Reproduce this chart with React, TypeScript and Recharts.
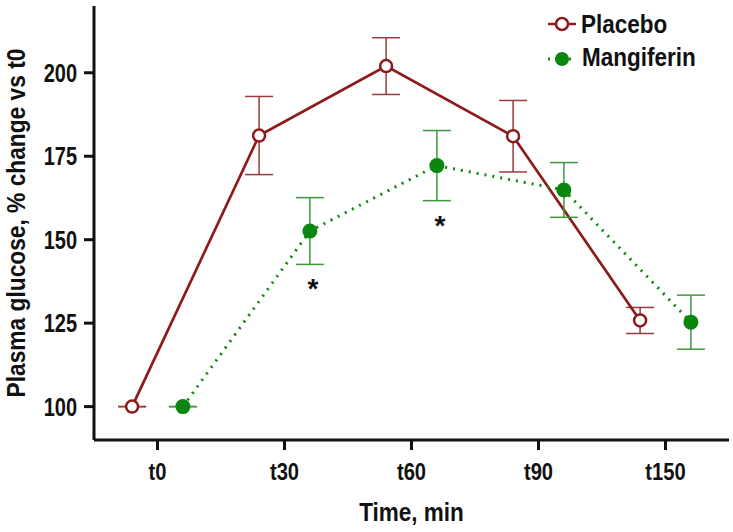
import React from 'react';
import { ComposedChart, Line, Scatter, XAxis, YAxis, ErrorBar } from 'recharts';

// Glucose tolerance: % change vs t0, mean ± SEM
const times = ['t0', 't30', 't60', 't90', 't150'];
const placeboMean = [100, 181.2, 202, 181, 125.8];
const placeboSem = [0.05, 11.7, 8.5, 10.7, 3.9];
const mangiferinMean = [100, 152.6, 172.2, 164.9, 125.3];
const mangiferinSem = [0.05, 10, 10.5, 8.2, 8.1];
const significant = [false, true, true, false, false];
const yTicks = [100, 125, 150, 175, 200];

const PLACEBO = '#8e1a1c';
const PLACEBO_ERR = '#9b3a3b';
const MANGIFERIN = '#0b870f';
const MANGIFERIN_ERR = '#3c9a3c';
const FONT = "'Liberation Sans', Arial, sans-serif";

// side-by-side within each time point
const SHIFT = 0.2;
const placeboData = times.map((_, i) => ({ x: i - SHIFT, y: placeboMean[i], err: placeboSem[i] }));
const mangiferinData = times.map((_, i) => ({ x: i + SHIFT, y: mangiferinMean[i], err: mangiferinSem[i] }));
const starData = times
  .map((_, i) => ({ x: i + SHIFT, y: mangiferinMean[i] - mangiferinSem[i], sig: significant[i] }))
  .filter((d) => d.sig);

// narrow bold text (Arial Narrow look) by squeezing Liberation Sans horizontally
const Narrow = ({ x, y, size = 25, squeeze = 0.9, anchor = 'start', rotate = 0, children }: any) => (
  <text
    transform={`translate(${x},${y}) rotate(${rotate}) scale(${squeeze},1)`}
    textAnchor={anchor}
    fontFamily={FONT}
    fontWeight={700}
    fontSize={size}
    fill="#111"
  >
    {children}
  </text>
);

const YTick = (props: any) => (
  <Narrow x={props.x} y={props.y + 9} size={25} squeeze={0.8} anchor="end">
    {props.payload.value}
  </Narrow>
);

const XTick = (props: any) => (
  <Narrow x={props.x} y={props.y + 30} size={24} squeeze={0.84} anchor="middle">
    {times[Math.round(Number(props.payload.value))]}
  </Narrow>
);

const XTitle = (props: any) => {
  const vb = props.viewBox || { x: 94, y: 440, width: 635 };
  return (
    <Narrow x={vb.x + vb.width / 2} y={vb.y + 81} anchor="middle">
      Time, min
    </Narrow>
  );
};

const YTitle = (props: any) => {
  const vb = props.viewBox || { x: 0, y: 6, height: 434 };
  return (
    <Narrow x={vb.x + 25} y={vb.y + vb.height / 2} anchor="middle" rotate={-90} squeeze={0.91}>
      Plasma glucose, % change vs t0
    </Narrow>
  );
};

const Star = (props: any) => (
  <text x={props.cx + 3} y={props.cy + 34} textAnchor="middle" fontSize={28} fontWeight={700} fill="#111" fontFamily={FONT}>
    *
  </text>
);

const LegendOverlay = () => (
  <svg width={733} height={80} style={{ position: 'absolute', left: 0, top: 0, pointerEvents: 'none' }}>
    <line x1={548} y1={24} x2={576} y2={24} stroke={PLACEBO} strokeWidth={2.5} />
    <circle cx={562} cy={24} r={6} fill="#fff" stroke={PLACEBO} strokeWidth={2.5} />
    <Narrow x={581} y={33}>Placebo</Narrow>
    <line x1={548} y1={59} x2={576} y2={59} stroke={MANGIFERIN} strokeWidth={3} strokeDasharray="2 5" />
    <circle cx={562} cy={59} r={7} fill={MANGIFERIN} />
    <Narrow x={582} y={66}>Mangiferin</Narrow>
  </svg>
);

const axisTickLine = { stroke: '#111', strokeWidth: 3 };

export default function App() {
  return (
    <div style={{ position: 'absolute', left: 0, top: 0, width: 733, height: 532, background: '#fff' }}>
      <ComposedChart width={733} height={532} margin={{ top: 6, right: 4, bottom: 0, left: 0 }}>
        <XAxis
          type="number"
          dataKey="x"
          domain={[-0.5, 4.5]}
          ticks={[0, 1, 2, 3, 4]}
          height={92}
          stroke="#111"
          strokeWidth={3}
          tickLine={axisTickLine}
          tickSize={10}
          tickMargin={0}
          tick={<XTick />}
          label={<XTitle />}
        />
        <YAxis
          type="number"
          domain={[90, 220]}
          ticks={yTicks}
          width={94}
          stroke="#111"
          strokeWidth={3}
          tickLine={axisTickLine}
          tickSize={10}
          tickMargin={7}
          tick={<YTick />}
          label={<YTitle />}
        />
        <Line
          data={placeboData}
          dataKey="y"
          name="Placebo"
          stroke={PLACEBO}
          strokeWidth={2.7}
          dot={{ r: 6, fill: '#fff', stroke: PLACEBO, strokeWidth: 2.5 }}
          activeDot={false}
          isAnimationActive={false}
        >
          <ErrorBar dataKey="err" width={14} stroke={PLACEBO_ERR} strokeWidth={1.5} direction="y" />
        </Line>
        <Line
          data={mangiferinData}
          dataKey="y"
          name="Mangiferin"
          stroke={MANGIFERIN}
          strokeWidth={3}
          strokeDasharray="2 6"
          dot={{ r: 7.5, fill: MANGIFERIN, stroke: MANGIFERIN, strokeWidth: 0, strokeDasharray: '0' }}
          activeDot={false}
          isAnimationActive={false}
        >
          <ErrorBar dataKey="err" width={14} stroke={MANGIFERIN_ERR} strokeWidth={1.5} direction="y" />
        </Line>
        <Scatter data={starData} dataKey="y" shape={<Star />} isAnimationActive={false} legendType="none" />
      </ComposedChart>
      <LegendOverlay />
    </div>
  );
}
